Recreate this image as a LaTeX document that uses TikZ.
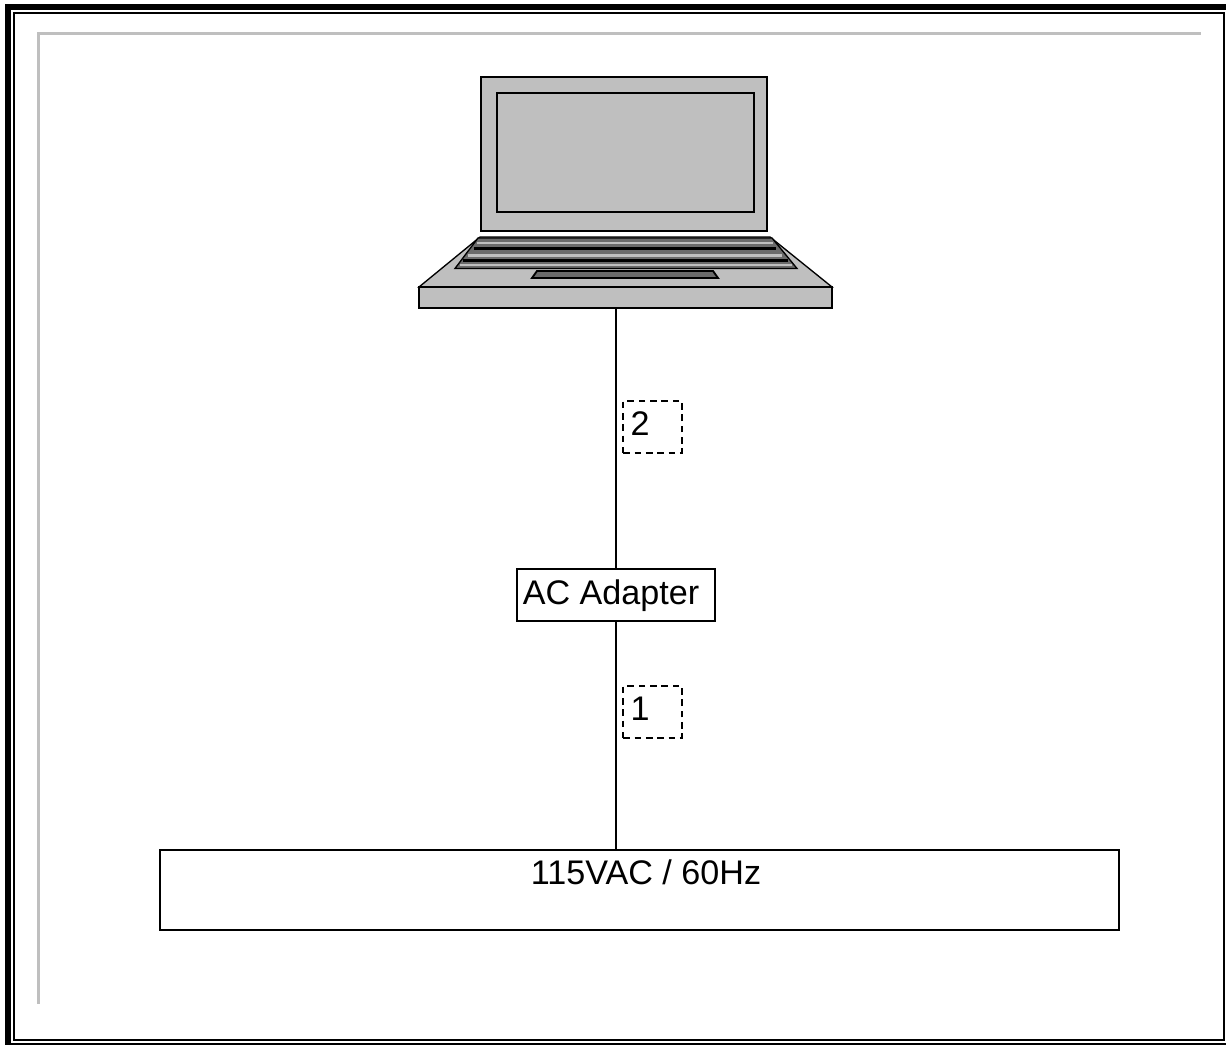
\documentclass[tikz,border=0pt]{standalone}
\usepackage{fontspec}
\setmainfont{Liberation Sans}
\definecolor{lapgray}{gray}{.75}
\definecolor{keygray}{gray}{.42}
\newcommand{\lbl}{\fontsize{25.6}{26}\selectfont}
\tikzset{
  box/.style={draw,line width=1.7pt,fill=white,rectangle,inner sep=0pt},
  tag/.style={draw,dash pattern=on 5pt off 3.5pt,line width=1.3pt,inner sep=0pt,minimum width=44pt,minimum height=39pt},
  lap/.style={draw,line width=1.7pt,fill=lapgray},
  wire/.style={line width=1.7pt},
  txt/.style={font=\lbl,inner sep=0pt}
}
\begin{document}
\begin{tikzpicture}[x=.75pt,y=-.75pt]
  \useasboundingbox (0,0) rectangle (1226,1045);
  % frame
  \fill (5,4) rectangle (1226,10);
  \fill (5,4) rectangle (11,1045);
  \fill (11,1043) rectangle (1226,1045);
  \fill (13,12) rectangle (1225,14);
  \fill (13,12) rectangle (15,1041);
  \fill (13,1039) rectangle (1225,1041);
  \fill (1223,12) rectangle (1225,1041);
  \fill[lapgray] (37,32) rectangle (1201,35);
  \fill[lapgray] (37,32) rectangle (40,1004);
  % laptop
  \draw[lap] (481,77) rectangle (767,231);
  \draw[lap] (497,93) rectangle (754,212);
  \draw[lap,line width=1pt] (480,237)--(770,237)--(832,287)--(419,287)--cycle;
  \draw[fill=keygray,line width=1pt] (478,238)--(772,238)--(797,268.5)--(455,268.5)--cycle;
  \fill[lapgray] (477,241.5) rectangle (773,244);
  \fill[lapgray] (468,254) rectangle (782,257);
  \fill[lapgray] (460,263.5) rectangle (792,265.5);
  \draw[line width=2pt] (474,248.5)--(776,248.5);
  \draw[line width=2pt] (463,260.5)--(788,260.5);
  \draw[fill=keygray,line width=1.4pt] (537,271)--(713,271)--(718,278)--(532,278)--cycle;
  \node[lap,inner sep=0pt,minimum width=309.75pt,minimum height=15.75pt] (base) at (625.5,297.5) {};
  % blocks
  \node[box,minimum width=148.5pt,minimum height=39pt] (adapter) at (616,595) {};
  \node[box,minimum width=719pt,minimum height=60pt] (mains) at (639.5,890) {};
  \node[txt] (adaptertxt) at (611,597) {\strut AC Adapter};
  \node[txt] (mainstxt) at (646,877) {\strut 115VAC / 60Hz};
  % wires
  \draw[wire] (adapter.north) -- (base.south-|adapter.north);
  \draw[wire] (adapter.south) -- (mains.north-|adapter.south);
  % tags
  \node[tag] (tag2) at (652.5,427) {};
  \node[tag] (tag1) at (652.5,712) {};
  \node[txt] (num2) at (640,424) {2};
  \node[txt] (num1) at (640,709) {1};
\end{tikzpicture}
\end{document}
